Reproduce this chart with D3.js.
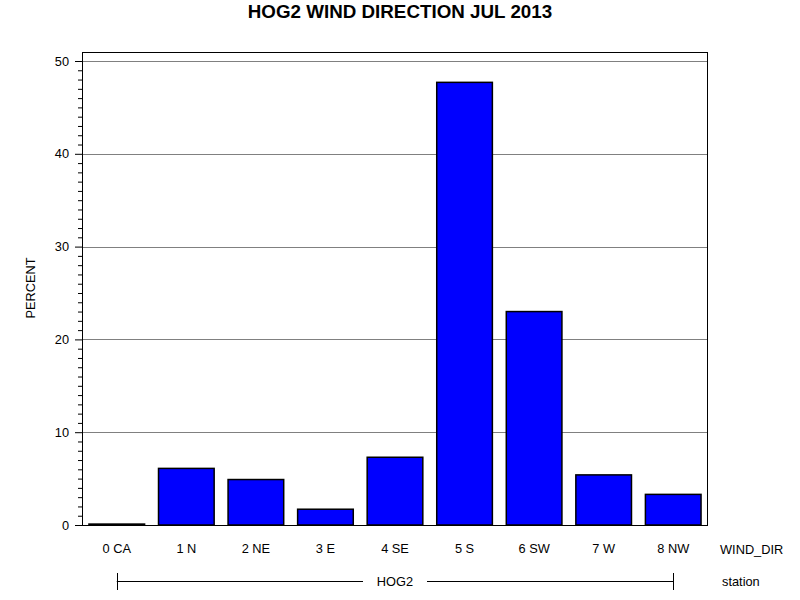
<!DOCTYPE html>
<html>
<head>
<meta charset="utf-8">
<script src="https://cdn.jsdelivr.net/npm/d3@7/dist/d3.min.js"></script>
<style>
body{margin:0;background:#fff;}
text{font-family:Arial,"Liberation Sans",sans-serif;}
</style>
</head>
<body>
<svg id="chart" width="800" height="600"></svg>
<script>
const categories = ["0 CA","1 N","2 NE","3 E","4 SE","5 S","6 SW","7 W","8 NW"];
const percent = [0.1, 6.1, 4.9, 1.7, 7.3, 47.7, 23.0, 5.4, 3.3];
const yTicks = [0,10,20,30,40,50];
const station = "HOG2";
const title = "HOG2 WIND DIRECTION JUL 2013";

const svg = d3.select("#chart");
svg.append("rect").attr("width",800).attr("height",600).attr("fill","#fff");
const L=82, R=708, T=52, B=525;
const FS = 12.8;

const x = d3.scaleBand().domain(categories).range([L,R]).paddingInner(0.2).paddingOuter(0.1);
const y = d3.scaleLinear().domain([0,50]).range([B,61]);

// title
svg.append("text").attr("x",400).attr("y",18).attr("text-anchor","middle")
  .attr("font-size",18.8).attr("font-weight","bold").text(title);

// gridlines
svg.append("g").selectAll("line").data(yTicks.filter(d=>d>0)).join("line")
  .attr("x1",L).attr("x2",R).attr("y1",d=>Math.round(y(d))+0.5).attr("y2",d=>Math.round(y(d))+0.5)
  .attr("stroke","#808080").attr("stroke-width",1);

// bars
svg.append("g").selectAll("rect").data(categories).join("rect")
  .attr("x",d=>x(d)).attr("width",x.bandwidth())
  .attr("y",(d,i)=>y(percent[i])).attr("height",(d,i)=>B-y(percent[i]))
  .attr("fill","#0000ff").attr("stroke","#000").attr("stroke-width",1.5);

// frame
svg.append("rect").attr("x",L+0.5).attr("y",T+0.5).attr("width",R-L-1).attr("height",B-T)
  .attr("fill","none").attr("stroke","#000").attr("stroke-width",1);

// y axis major ticks
const yAxis = d3.axisLeft(y).tickValues(yTicks).tickSize(7).tickPadding(6).tickFormat(d3.format("d"));
const gy = svg.append("g").attr("transform",`translate(${L},0)`).call(yAxis);
gy.select(".domain").remove();
gy.selectAll("text").attr("font-size",FS).attr("fill","#000").attr("font-family","Arial,'Liberation Sans',sans-serif");
gy.selectAll("line").attr("stroke","#000");
// minor ticks
const minor = d3.range(0,51).filter(v=>v%10!==0);
const yMinor = d3.axisLeft(y).tickValues(minor).tickSize(4).tickFormat("");
const gm = svg.append("g").attr("transform",`translate(${L},0)`).call(yMinor);
gm.select(".domain").remove();
gm.selectAll("line").attr("stroke","#000");

// y label
svg.append("text").attr("transform","translate(35,288) rotate(-90)").attr("text-anchor","middle")
  .attr("font-size",FS).text("PERCENT");

// x axis labels
const xAxis = d3.axisBottom(x).tickSize(0).tickPadding(19);
const gx = svg.append("g").attr("transform",`translate(0,${B})`).call(xAxis);
gx.select(".domain").remove();
gx.selectAll("text").attr("font-size",FS).attr("fill","#000").attr("font-family","Arial,'Liberation Sans',sans-serif");
svg.append("text").attr("x",720).attr("y",554).attr("font-size",FS).text("WIND_DIR");

// station axis
const sx1 = x(categories[0])+x.bandwidth()/2, sx2 = x(categories[categories.length-1])+x.bandwidth()/2;
const sy = 581.5, mid = 395;
const g2 = svg.append("g").attr("stroke","#000").attr("stroke-width",1);
g2.append("line").attr("x1",sx1).attr("x2",mid-32).attr("y1",sy).attr("y2",sy);
g2.append("line").attr("x1",mid+32).attr("x2",sx2).attr("y1",sy).attr("y2",sy);
g2.append("line").attr("x1",Math.round(sx1)+0.5).attr("x2",Math.round(sx1)+0.5).attr("y1",573).attr("y2",590);
g2.append("line").attr("x1",Math.round(sx2)+0.5).attr("x2",Math.round(sx2)+0.5).attr("y1",573).attr("y2",590);
svg.append("text").attr("x",mid).attr("y",586).attr("text-anchor","middle").attr("font-size",FS).text(station);
svg.append("text").attr("x",722).attr("y",586).attr("font-size",FS).text("station");
</script>
</body>
</html>
